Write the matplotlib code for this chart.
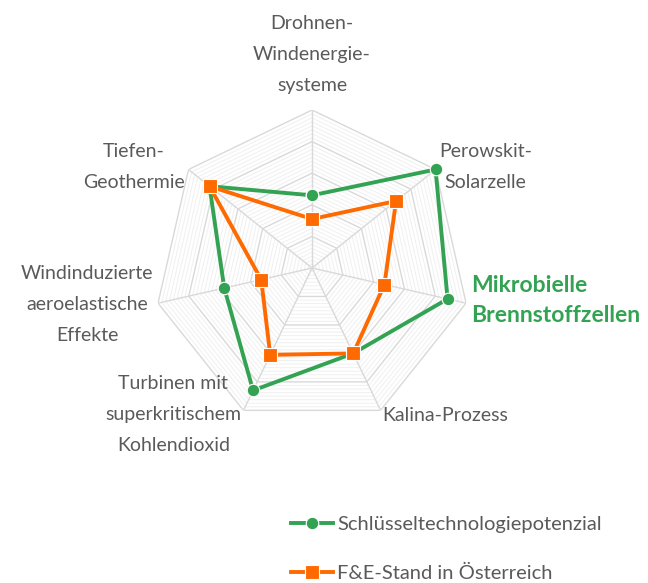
import numpy as np
import matplotlib
matplotlib.use("Agg")
import matplotlib.pyplot as plt

plt.rcParams['font.family'] = ['Lato', 'DejaVu Sans']

# Daten
kategorien = [
    "Drohnen-\nWindenergie-\nsysteme",
    "Perowskit-\nSolarzelle",
    "Mikrobielle\nBrennstoffzellen",
    "Kalina-Prozess",
    "Turbinen mit\nsuperkritischem\nKohlendioxid",
    "Windinduzierte\naeroelastische\nEffekte",
    "Tiefen-\nGeothermie",
]
potenzial = [4.6, 10.0, 8.8, 6.0, 8.6, 5.7, 8.3]
fe_stand = [3.1, 6.8, 4.7, 6.0, 6.1, 3.3, 8.3]
serien_namen = ["Schlüsseltechnologiepotenzial", "F&E-Stand in Österreich"]

gruen = '#33a353'
orange = '#ff6a00'
grau_text = '#5a5a5a'

n = len(kategorien)
winkel = np.linspace(0, 2 * np.pi, n, endpoint=False)
rmax = 10

fig = plt.figure(figsize=(6.48, 5.83), dpi=100)
ax = fig.add_axes([0.4815 - 0.2438, 0.5403 - 0.271, 0.4877, 0.542], polar=True)
ax.set_theta_zero_location('N')
ax.set_theta_direction(-1)
ax.set_ylim(0, rmax)
ax.grid(False)
ax.spines['polar'].set_visible(False)
ax.set_xticks([])
ax.set_yticks([])

# Polygon-Raster
w_closed = np.append(winkel, winkel[0])
for r in np.arange(0.25, rmax + 0.01, 0.25):
    if abs(r % 2) < 1e-6:
        ax.plot(w_closed, [r] * (n + 1), color='#d9d9d9', lw=1.0, zorder=1)
    else:
        ax.plot(w_closed, [r] * (n + 1), color='#f0f0f0', lw=0.7, zorder=0)
for w in winkel:
    ax.plot([w, w], [0, rmax], color='#d9d9d9', lw=1.0, zorder=1)

# Serien
ax.plot(w_closed, potenzial + potenzial[:1], color=gruen, lw=2.8, marker='o',
        markersize=9, markeredgecolor='white', markeredgewidth=0.8,
        label=serien_namen[0], zorder=3, clip_on=False)
ax.plot(w_closed, fe_stand + fe_stand[:1], color=orange, lw=2.8, marker='s',
        markersize=9.5, markeredgecolor='white', markeredgewidth=0.8,
        label=serien_namen[1], zorder=4, clip_on=False)

# Achsenbeschriftungen
ausrichtung = ['center', 'left', 'left', 'left', 'right', 'right', 'right']
versatz = [(0, 11), (0, 0), (0, 4), (0, -1), (0, 0), (0, 0), (0, 0)]
for i, (w, txt) in enumerate(zip(winkel, kategorien)):
    va = 'bottom' if i == 0 else 'center'
    if i == 2:
        ax.annotate(txt, xy=(w, rmax * 1.03), xytext=versatz[i],
                    textcoords='offset pixels', ha='left', va='center',
                    color=gruen, fontsize=16.5, fontweight='bold',
                    linespacing=1.55, multialignment='left',
                    annotation_clip=False)
    else:
        ax.annotate(txt, xy=(w, rmax * 1.03), xytext=versatz[i],
                    textcoords='offset pixels', ha=ausrichtung[i], va=va,
                    color=grau_text, fontsize=14, linespacing=2.0,
                    multialignment='center', annotation_clip=False)

fig.legend(loc='upper left', bbox_to_anchor=(291 / 648, 1 - 516 / 583),
           frameon=False, fontsize=14.5, handlelength=2.1, handletextpad=0.2,
           labelspacing=1.6, labelcolor=grau_text, borderaxespad=0,
           borderpad=0)

fig.savefig('out.png', dpi=100, facecolor='white')
